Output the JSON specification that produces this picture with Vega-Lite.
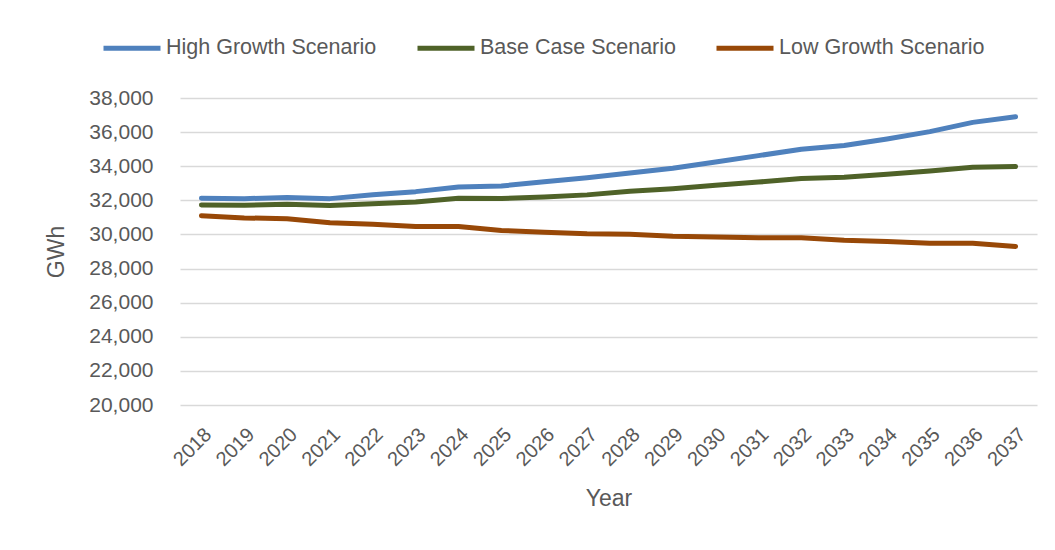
{
  "$schema": "https://vega.github.io/schema/vega-lite/v6.json",
  "autosize": {"type": "none"},
  "width": 857,
  "height": 307,
  "padding": {"left": 180, "top": 98, "right": 18, "bottom": 145},
  "background": "white",
  "config": {
    "view": {"stroke": null},
    "font": "Liberation Sans"
  },
  "data": {
    "values": [
      {"Year": "2018", "Scenario": "High Growth Scenario", "GWh": 32120},
      {"Year": "2019", "Scenario": "High Growth Scenario", "GWh": 32100},
      {"Year": "2020", "Scenario": "High Growth Scenario", "GWh": 32160},
      {"Year": "2021", "Scenario": "High Growth Scenario", "GWh": 32100},
      {"Year": "2022", "Scenario": "High Growth Scenario", "GWh": 32330},
      {"Year": "2023", "Scenario": "High Growth Scenario", "GWh": 32510},
      {"Year": "2024", "Scenario": "High Growth Scenario", "GWh": 32780},
      {"Year": "2025", "Scenario": "High Growth Scenario", "GWh": 32840},
      {"Year": "2026", "Scenario": "High Growth Scenario", "GWh": 33090},
      {"Year": "2027", "Scenario": "High Growth Scenario", "GWh": 33330},
      {"Year": "2028", "Scenario": "High Growth Scenario", "GWh": 33600},
      {"Year": "2029", "Scenario": "High Growth Scenario", "GWh": 33880},
      {"Year": "2030", "Scenario": "High Growth Scenario", "GWh": 34250},
      {"Year": "2031", "Scenario": "High Growth Scenario", "GWh": 34620},
      {"Year": "2032", "Scenario": "High Growth Scenario", "GWh": 34990},
      {"Year": "2033", "Scenario": "High Growth Scenario", "GWh": 35220},
      {"Year": "2034", "Scenario": "High Growth Scenario", "GWh": 35600},
      {"Year": "2035", "Scenario": "High Growth Scenario", "GWh": 36030},
      {"Year": "2036", "Scenario": "High Growth Scenario", "GWh": 36570},
      {"Year": "2037", "Scenario": "High Growth Scenario", "GWh": 36900},
      {"Year": "2018", "Scenario": "Base Case Scenario", "GWh": 31730},
      {"Year": "2019", "Scenario": "Base Case Scenario", "GWh": 31710},
      {"Year": "2020", "Scenario": "Base Case Scenario", "GWh": 31770},
      {"Year": "2021", "Scenario": "Base Case Scenario", "GWh": 31690},
      {"Year": "2022", "Scenario": "Base Case Scenario", "GWh": 31800},
      {"Year": "2023", "Scenario": "Base Case Scenario", "GWh": 31900},
      {"Year": "2024", "Scenario": "Base Case Scenario", "GWh": 32120},
      {"Year": "2025", "Scenario": "Base Case Scenario", "GWh": 32110},
      {"Year": "2026", "Scenario": "Base Case Scenario", "GWh": 32200},
      {"Year": "2027", "Scenario": "Base Case Scenario", "GWh": 32320},
      {"Year": "2028", "Scenario": "Base Case Scenario", "GWh": 32530},
      {"Year": "2029", "Scenario": "Base Case Scenario", "GWh": 32680},
      {"Year": "2030", "Scenario": "Base Case Scenario", "GWh": 32880},
      {"Year": "2031", "Scenario": "Base Case Scenario", "GWh": 33070},
      {"Year": "2032", "Scenario": "Base Case Scenario", "GWh": 33280},
      {"Year": "2033", "Scenario": "Base Case Scenario", "GWh": 33360},
      {"Year": "2034", "Scenario": "Base Case Scenario", "GWh": 33530},
      {"Year": "2035", "Scenario": "Base Case Scenario", "GWh": 33720},
      {"Year": "2036", "Scenario": "Base Case Scenario", "GWh": 33940},
      {"Year": "2037", "Scenario": "Base Case Scenario", "GWh": 33980},
      {"Year": "2018", "Scenario": "Low Growth Scenario", "GWh": 31100},
      {"Year": "2019", "Scenario": "Low Growth Scenario", "GWh": 30970},
      {"Year": "2020", "Scenario": "Low Growth Scenario", "GWh": 30920},
      {"Year": "2021", "Scenario": "Low Growth Scenario", "GWh": 30690},
      {"Year": "2022", "Scenario": "Low Growth Scenario", "GWh": 30600},
      {"Year": "2023", "Scenario": "Low Growth Scenario", "GWh": 30460},
      {"Year": "2024", "Scenario": "Low Growth Scenario", "GWh": 30460},
      {"Year": "2025", "Scenario": "Low Growth Scenario", "GWh": 30230},
      {"Year": "2026", "Scenario": "Low Growth Scenario", "GWh": 30130},
      {"Year": "2027", "Scenario": "Low Growth Scenario", "GWh": 30040},
      {"Year": "2028", "Scenario": "Low Growth Scenario", "GWh": 30010},
      {"Year": "2029", "Scenario": "Low Growth Scenario", "GWh": 29900},
      {"Year": "2030", "Scenario": "Low Growth Scenario", "GWh": 29850},
      {"Year": "2031", "Scenario": "Low Growth Scenario", "GWh": 29810},
      {"Year": "2032", "Scenario": "Low Growth Scenario", "GWh": 29800},
      {"Year": "2033", "Scenario": "Low Growth Scenario", "GWh": 29660},
      {"Year": "2034", "Scenario": "Low Growth Scenario", "GWh": 29580},
      {"Year": "2035", "Scenario": "Low Growth Scenario", "GWh": 29490},
      {"Year": "2036", "Scenario": "Low Growth Scenario", "GWh": 29490},
      {"Year": "2037", "Scenario": "Low Growth Scenario", "GWh": 29300}
    ]
  },
  "mark": {"type": "line", "strokeWidth": 5, "strokeCap": "round", "strokeJoin": "round"},
  "encoding": {
    "x": {
      "field": "Year",
      "type": "ordinal",
      "scale": {"type": "band", "paddingInner": 0, "paddingOuter": 0},
      "axis": {
        "title": "Year",
        "titleFontSize": 23,
        "titleFontWeight": "normal",
        "titleColor": "#595959",
        "titlePadding": 18,
        "labelAngle": -45,
        "labelAlign": "right",
        "labelBaseline": "top",
        "labelFontSize": 20,
        "labelColor": "#595959",
        "labelPadding": 19,
        "ticks": false,
        "domain": false,
        "grid": false
      }
    },
    "y": {
      "field": "GWh",
      "type": "quantitative",
      "scale": {"domain": [20000, 38000], "nice": false, "zero": false},
      "axis": {
        "title": "GWh",
        "titleFontSize": 23,
        "titleFontWeight": "normal",
        "titleColor": "#595959",
        "titlePadding": 20,
        "values": [20000, 22000, 24000, 26000, 28000, 30000, 32000, 34000, 36000, 38000],
        "format": ",d",
        "labelFontSize": 21,
        "labelColor": "#595959",
        "labelPadding": 27,
        "ticks": false,
        "domain": false,
        "grid": true,
        "gridColor": "#D9D9D9",
        "gridWidth": 1.5
      }
    },
    "color": {
      "field": "Scenario",
      "type": "nominal",
      "scale": {
        "domain": ["High Growth Scenario", "Base Case Scenario", "Low Growth Scenario"],
        "range": ["#4F81BD", "#4F6228", "#984807"]
      },
      "legend": {
        "title": null,
        "orient": "none",
        "direction": "horizontal",
        "legendX": -79,
        "legendY": -81,
        "symbolType": "stroke",
        "symbolSize": 3249,
        "symbolStrokeWidth": 5,
        "labelFontSize": 21.5,
        "labelColor": "#595959",
        "labelOffset": 3,
        "columnPadding": 30,
        "labelLimit": 400
      }
    }
  }
}
